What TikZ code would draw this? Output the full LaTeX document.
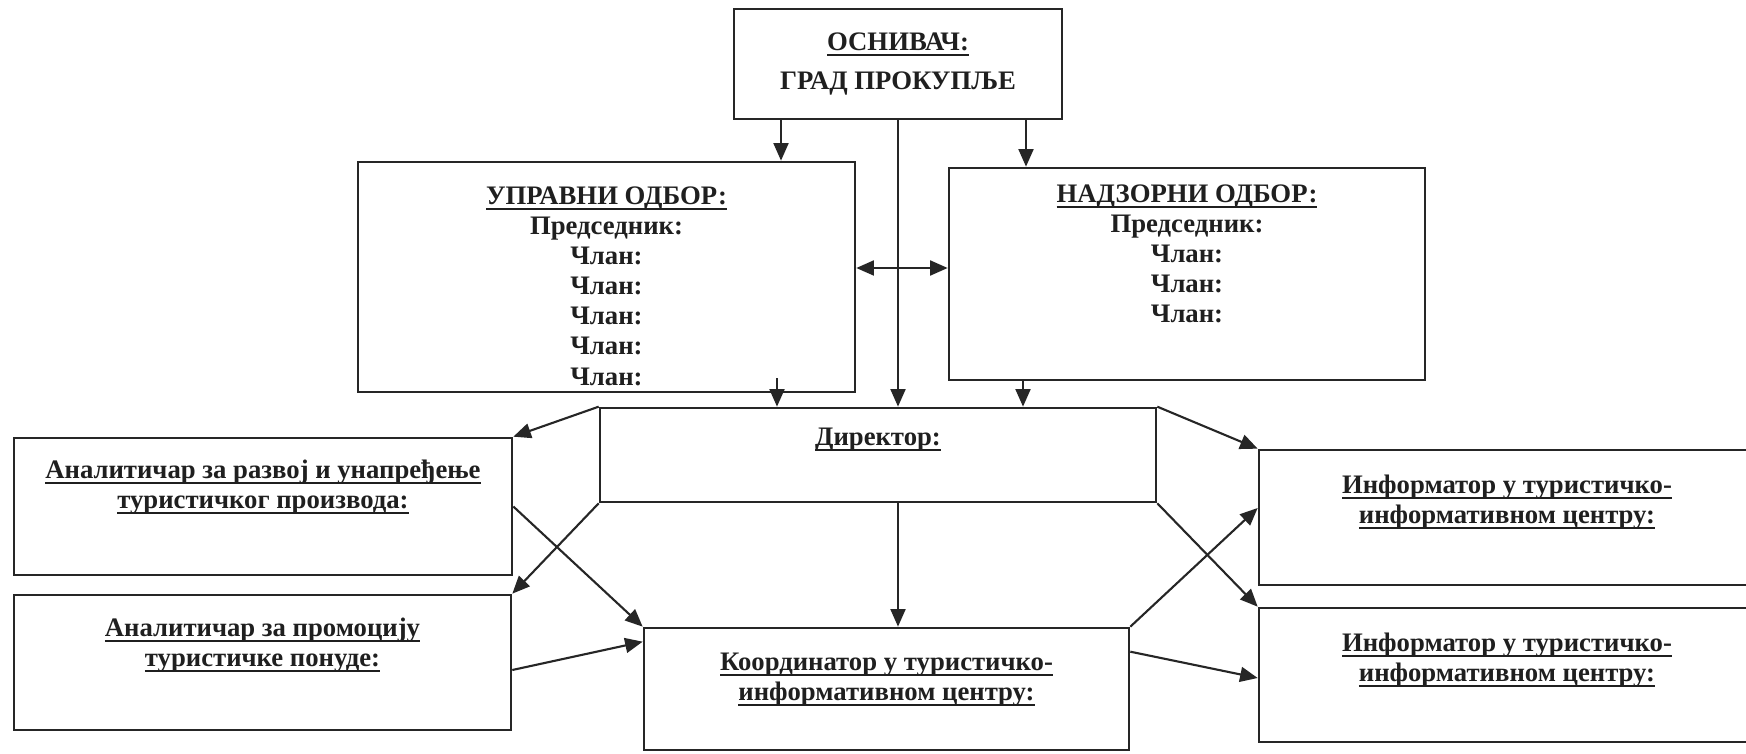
\documentclass[tikz,border=0pt]{standalone}
\usepackage{fontspec}
\setmainfont{Liberation Serif}
\usetikzlibrary{calc,positioning,arrows.meta}
\newcommand{\undertext}[1]{\leavevmode\setbox0=\hbox{#1}\rlap{\rule[-3.2pt]{\wd0}{1.4pt}}\box0}

\tikzset{
	box/.style={draw=black!85, line width=1.5pt, inner sep=0pt},
	txt/.style={align=center, inner sep=0pt, text=black!88, font=\fontsize{15.2}{17.1}\selectfont\bfseries},
	link/.style={draw=black!85, line width=1.2pt, -{Triangle[length=10pt,width=8.5pt]}},
	bilink/.style={draw=black!85, line width=1.2pt, {Triangle[length=10pt,width=8.5pt]}-{Triangle[length=10pt,width=8.5pt]}}
}

\begin{document}
\begin{tikzpicture}
			%%%%% START %%%%%
			\useasboundingbox (0, 0) rectangle (34.92, 15.06);
			
			\node[box, minimum width=6.56cm, minimum height=2.2cm] (osn) at (17.96, 13.78) {};
			\node[box, minimum width=9.94cm, minimum height=4.6cm] (upr) at (12.13, 9.52) {};
			\node[box, minimum width=9.52cm, minimum height=4.24cm] (nad) at (23.74, 9.58) {};
			\node[box, minimum width=11.12cm, minimum height=1.88cm] (dir) at (17.56, 5.96) {};
			
			\node[box, minimum width=9.96cm, minimum height=2.74cm] (an1) at (5.26, 4.93) {};
			\node[box, minimum width=9.94cm, minimum height=2.7cm] (an2) at (5.25, 1.81) {};
			\node[box, minimum width=9.7cm, minimum height=2.44cm] (koo) at (17.73, 1.28) {};
			\node[box, minimum width=9.92cm, minimum height=2.7cm] (inf1) at (30.14, 4.71) {};
			\node[box, minimum width=9.92cm, minimum height=2.68cm] (inf2) at (30.14, 1.56) {};
			
			\node[txt, below=0.5cm of osn.north] (osnT) {\undertext{ОСНИВАЧ:}\\[5pt]ГРАД ПРОКУПЉЕ};
			\node[txt, below=0.52cm of upr.north] (uprT) {\undertext{УПРАВНИ ОДБОР:}\\Председник:\\Члан:\\Члан:\\Члан:\\Члан:\\Члан:};
			\node[txt, below=0.36cm of nad.north] (nadT) {\undertext{НАДЗОРНИ ОДБОР:}\\Председник:\\Члан:\\Члан:\\Члан:};
			\node[txt, below=0.42cm of dir.north] (dirT) {\undertext{Директор:}};
			\node[txt, below=0.46cm of an1.north] (an1T) {\undertext{Аналитичар за развој и унапређење}\\\undertext{туристичког производа:}};
			\node[txt, below=0.48cm of an2.north] (an2T) {\undertext{Аналитичар за промоцију}\\\undertext{туристичке понуде:}};
			\node[txt, below=0.52cm of koo.north] (kooT) {\undertext{Координатор у туристичко-}\\\undertext{информативном центру:}};
			\node[txt, below=0.52cm of inf1.north] (inf1T) {\undertext{Информатор у туристичко-}\\\undertext{информативном центру:}};
			\node[txt, below=0.52cm of inf2.north] (inf2T) {\undertext{Информатор у туристичко-}\\\undertext{информативном центру:}};
			
			\draw[link] ([xshift=-2.34cm]osn.south) -- ([xshift=-2.34cm]osn.south |- upr.north);
			\draw[link] ([xshift=2.56cm]osn.south) -- ([xshift=2.56cm]osn.south |- nad.north);
			\draw[link] (osn.south) -- (osn.south |- dir.north);
			\draw[bilink] ([yshift=0.18cm]upr.east) -- ([yshift=0.18cm]upr.east -| nad.west);
			
			\draw[link] ([xshift=3.41cm, yshift=0.3cm]upr.south) -- ([xshift=3.41cm]upr.south |- dir.north);
			\draw[link] ([xshift=-3.28cm]nad.south) -- ([xshift=-3.28cm]nad.south |- dir.north);
			
			\draw[link] (dir.north west) -- (an1.north east);
			\draw[link] (dir.south west) -- (an2.north east);
			\draw[link] (an1.east) -- (koo.north west);
			\draw[link] ([yshift=-0.15cm]an2.east) -- ([yshift=-0.3cm]koo.north west);
			\draw[link] (osn.south |- dir.south) -- (osn.south |- koo.north);
			
			\draw[link] (dir.north east) -- (inf1.north west);
			\draw[link] (dir.south east) -- (inf2.north west);
			\draw[link] (koo.north east) -- ([yshift=0.19cm]inf1.west);
			\draw[link] ([yshift=-0.5cm]koo.north east) -- ([yshift=-0.06cm]inf2.west);
			
			%%%%% END %%%%%
\end{tikzpicture}
\end{document}
